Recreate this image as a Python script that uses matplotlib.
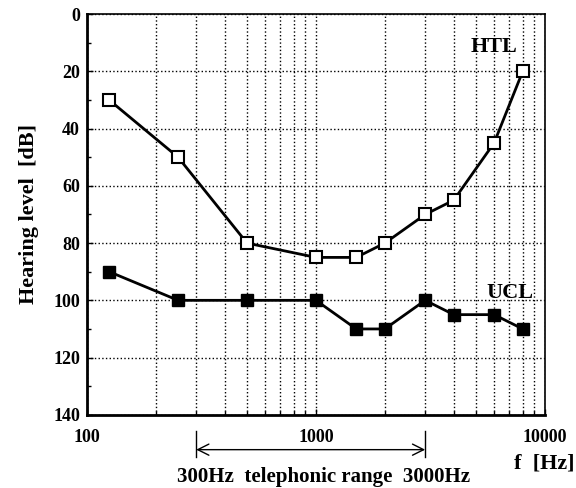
import matplotlib
matplotlib.use('Agg')
import matplotlib.pyplot as plt
from matplotlib.ticker import FixedLocator, NullFormatter

# Data
freqs = [125, 250, 500, 1000, 1500, 2000, 3000, 4000, 6000, 8000]
htl = [30, 50, 80, 85, 85, 80, 70, 65, 45, 20]
ucl = [90, 100, 100, 100, 110, 110, 100, 105, 105, 110]
xticks = [100, 1000, 10000]
yticks = [0, 20, 40, 60, 80, 100, 120, 140]

plt.rcParams['font.family'] = 'Liberation Serif'
plt.rcParams['font.weight'] = 'bold'

fig = plt.figure(figsize=(5.76, 4.88), dpi=100)
ax = fig.add_axes([0.151, 0.150, 0.795, 0.821])

ax.plot(freqs, htl, color='black', lw=2, marker='s', ms=9,
        mfc='white', mec='black', mew=1.5)
ax.plot(freqs, ucl, color='black', lw=2, marker='s', ms=9,
        mfc='black', mec='black')

ax.set_xscale('log')
ax.set_xlim(100, 10000)
ax.set_ylim(140, 0)

ax.set_xticks(xticks)
ax.set_xticklabels(['100', '1000', '10000'], fontsize=13, fontweight='bold')
ax.xaxis.set_minor_locator(FixedLocator([m * d for d in (100, 1000) for m in range(2, 10)]))
ax.xaxis.set_minor_formatter(NullFormatter())
ax.set_yticks(yticks)
ax.set_yticklabels([str(v) for v in yticks], fontsize=13, fontweight='bold')
ax.yaxis.set_minor_locator(FixedLocator(list(range(10, 140, 20))))

ax.tick_params(which='both', direction='in', width=1)
ax.tick_params(which='major', length=4)
ax.tick_params(which='minor', length=3)
ax.tick_params(axis='y', which='major', pad=5)
ax.tick_params(axis='x', which='major', pad=10)

ax.grid(True, which='major', color='black', linestyle=':', lw=1)
ax.grid(True, which='minor', axis='x', color='black', linestyle=':', lw=1)

for s in ax.spines.values():
    s.set_linewidth(1.2)
ax.spines['left'].set_linewidth(2)
ax.spines['bottom'].set_linewidth(2)

ax.text(6000, 15, 'HTL', fontsize=16, fontweight='bold', ha='center', va='bottom')
ax.text(7000, 101, 'UCL', fontsize=16, fontweight='bold', ha='center', va='bottom')

ax.set_ylabel('Hearing level  [dB]', fontsize=16, fontweight='bold', labelpad=10)

# telephonic range arrow
trans = ax.get_xaxis_transform()
ax.annotate('', xy=(300, -0.087), xytext=(3000, -0.087), xycoords=trans, textcoords=trans,
            arrowprops=dict(arrowstyle='<->', color='black', lw=1, mutation_scale=20,
                            shrinkA=0, shrinkB=0), annotation_clip=False)
for f in (300, 3000):
    ax.plot([f, f], [-0.04, -0.105], transform=trans, color='black', lw=1, clip_on=False)

fig.text(0.5625, 0.012, '300Hz  telephonic range  3000Hz', fontsize=15, fontweight='bold',
         ha='center', va='baseline')
fig.text(0.998, 0.04, 'f  [Hz]', fontsize=16, fontweight='bold', ha='right', va='baseline')

fig.savefig('out.png', dpi=100)
